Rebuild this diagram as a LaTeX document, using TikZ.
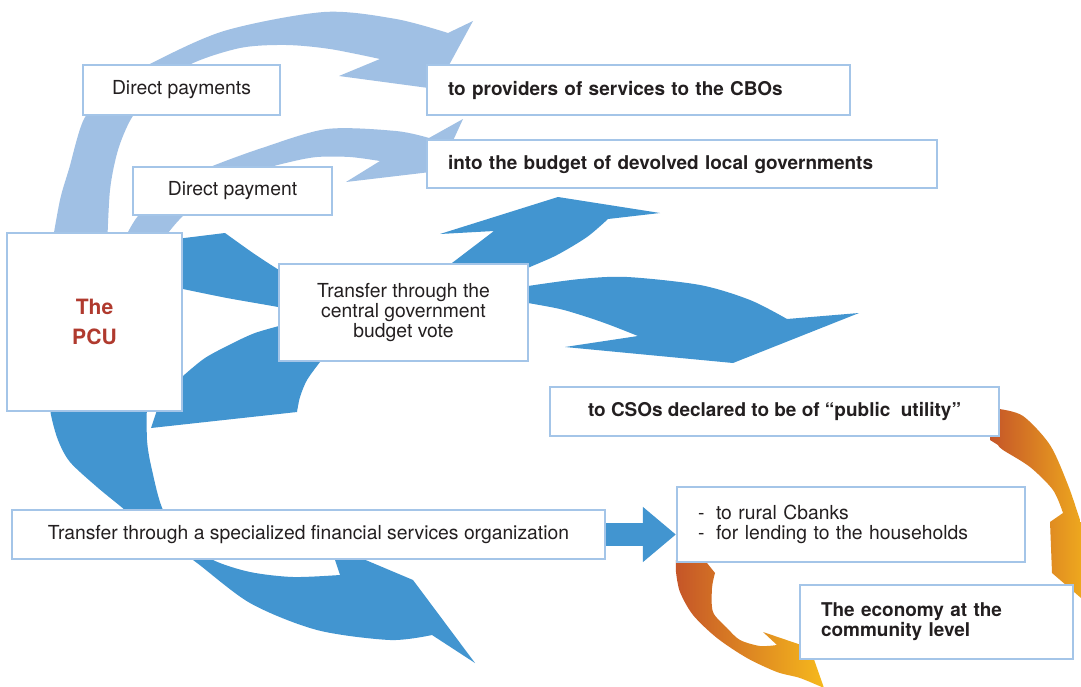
\documentclass[tikz,border=0pt]{standalone}
\usepackage{fontspec}
\setmainfont{TeX Gyre Heros}
\definecolor{azulcl}{RGB}{160, 192, 228}
\definecolor{azulos}{RGB}{66, 149, 208}
\definecolor{bordecl}{RGB}{164, 197, 232}
\definecolor{rojopcu}{RGB}{176, 58, 46}
\definecolor{naranjo}{RGB}{197, 85, 40}
\definecolor{ambar}{RGB}{246, 185, 28}
\definecolor{tinta}{RGB}{35, 31, 32}
\usetikzlibrary{arrows.meta}

\begin{document}
\begin{tikzpicture}[x=0.02cm, y=-0.02cm,
    caja/.style={draw=bordecl, line width=1.3pt, fill=white, text=tinta, inner sep=0pt,
                 font=\fontsize{11}{11.5}\selectfont},
    cajaizq/.style={caja, align=left, inner xsep=0.42cm},
    negrita/.style={font=\fontsize{10.8}{11.5}\selectfont\bfseries}]
        \path[use as bounding box, fill=white] (0,0) rectangle (1081,686);
        % light blue arcs over the top
        \fill[azulcl] plot[smooth] coordinates {(51,250) (60,200) (69,169) (84,119) (110,88) (148,65) (224,31) (324,12) (396,19) (448,33)}
          -- (473,21) -- (436,89) -- (339,76) -- (380,59)
          -- plot[smooth] coordinates {(380,59) (330,49) (286,45) (240,48) (189,65) (150,95) (131,119) (118,150) (110,190) (107,250)} -- cycle;
        \fill[azulcl] plot[smooth] coordinates {(124,240) (138,216) (170,185) (210,167) (262,148) (327,129) (396,131) (429,138)}
          -- (463,119) -- (439,171) -- (346,182) -- (380,161)
          -- plot[smooth] coordinates {(380,161) (350,157) (317,157) (290,162) (263,170) (230,190) (200,205) (183,216) (168,233) (165,240)} -- cycle;
        % dark blue flows
        \fill[azulos] (160,241) -- (225,233)
          -- plot[smooth] coordinates {(225,233) (253,253) (279,270) (300,282)}
          -- (420,290) -- (452,263) -- (494,231) -- (440,234) -- (558,197) -- (660,213) -- (608,219)
          -- plot[smooth] coordinates {(608,219) (587,237) (557,255) (530,267) (510,276)}
          -- (420,320) -- (300,312)
          -- plot[smooth] coordinates {(300,312) (278,307) (227,298) (183,289)} -- (160,289) -- cycle;
        \fill[azulos] (500,288) -- (528,286)
          -- plot[smooth] coordinates {(528,286) (580,279) (627,277) (700,285) (750,300) (787,319)}
          -- (859,313) -- (733,363) -- (565,347) -- (638,336)
          -- plot[smooth] coordinates {(638,336) (610,325) (587,317) (560,309) (528,303)} -- (500,303) -- cycle;
        \fill[azulos] (151,428) -- (297,412)
          -- plot[smooth] coordinates {(297,412) (300,397) (307,380) (320,362)}
          -- (400,340) -- (279,326)
          -- plot[smooth] coordinates {(279,326) (255,333) (233,343) (205,358) (183,376)}
          -- (165,395) -- (157,410) -- cycle;
        \fill[azulos] plot[smooth] coordinates {(49,395) (51,415) (58,440) (70,462) (97,487) (125,510) (160,540) (193,560) (250,603) (317,630) (390,640) (432,635)}
          -- (475,663) -- (413,580) -- (330,545) -- (340,575)
          -- plot[smooth] coordinates {(340,575) (293,577) (250,572) (213,560) (185,540) (163,510) (152,470) (147,440) (147,395)} -- cycle;
        % orange loops
        \shade[left color=naranjo, right color=ambar] (990,405) -- (999,409)
          -- plot[smooth] coordinates {(999,409) (1023,416) (1050,445) (1068,485) (1080,520) (1090,550)}
          -- (1100,540) -- (1095,610) -- (1052,573) -- (1050,522) -- (1063,513)
          -- plot[smooth] coordinates {(1063,513) (1053,490) (1030,467) (1003,450) (998,445)} -- (990,440) -- cycle;
        \shade[left color=naranjo, right color=ambar] (676,555) -- (707,555) -- (707,563) -- (715,573)
          -- plot[smooth] coordinates {(715,573) (712,588) (713,612) (727,628) (740,640) (760,646) (777,645)}
          -- (763,632) -- (810,648) -- (824,688)
          -- plot[smooth] coordinates {(824,688) (800,678) (777,672) (747,658) (717,638) (693,615) (680,592) (676,572) (676,560)} -- cycle;
        % boxes
        \node[caja, minimum width=3.94cm, minimum height=1cm] (pago1) at (181.5,90) {Direct payments};
        \node[caja, minimum width=3.98cm, minimum height=0.96cm] (pago2) at (232.5,191) {Direct payment};
        \node[cajaizq, negrita, text width=7.62cm, minimum height=1cm] (prov) at (638.5,90) {to providers of services to the CBOs};
        \node[cajaizq, negrita, text width=9.36cm, minimum height=0.96cm] (presup) at (682,164) {into the budget of devolved local governments};
        \node[caja, align=center, text=rojopcu, font=\fontsize{12}{17}\selectfont\bfseries,
              minimum width=3.5cm, minimum height=3.56cm] (pcu) at (94.5,322) {The\\PCU};
        \node[caja, align=center, minimum width=4.98cm, minimum height=1.94cm] (central) at (403.5,312.5)
              {Transfer through the\\central government\\budget vote};
        \node[caja, negrita, minimum width=8.98cm, minimum height=0.98cm] (cso) at (774.5,411.5)
              {to CSOs declared to be of “public\ \ utility”};
        \node[caja, minimum width=11.86cm, minimum height=0.98cm] (financ) at (308.5,534.5)
              {Transfer through a specialized financial services organization};
        \node[cajaizq, text width=6.12cm, minimum height=1.5cm] (rural) at (851,524.5)
              {\makebox[0.36cm][l]{-}to rural Cbanks\\\makebox[0.36cm][l]{-}for lending to the households};
        \node[cajaizq, negrita, text width=4.62cm, minimum height=1.48cm] (econ) at (936.5,622)
              {The economy at the\\community level};
        \draw[azulos, line width=0.46cm, -{Triangle[length=0.66cm, width=1.06cm]}] (financ.east) -- (financ.east -| rural.west);
      \end{tikzpicture}
\end{document}
